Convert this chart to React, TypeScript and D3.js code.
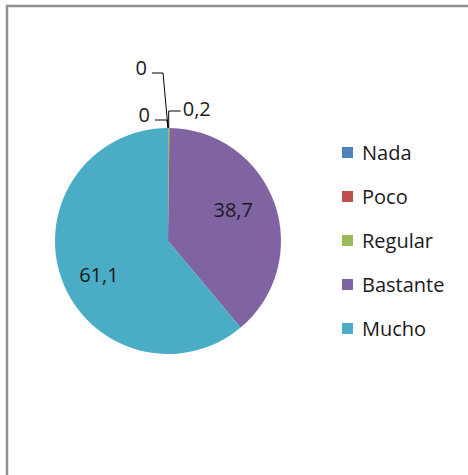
import { useEffect, useRef } from 'react'
import * as d3 from 'd3'

const categories = ['Nada', 'Poco', 'Regular', 'Bastante', 'Mucho']
const values = [0, 0, 0.2, 38.7, 61.1]
const labels = ['0', '0', '0,2', '38,7', '61,1']
const colours = ['#4F81BD', '#C0504D', '#9BBB59', '#8064A2', '#4BACC6']

const FONT = '"Open Sans", "Noto Sans", sans-serif'

function App() {
  const svgRef = useRef<SVGSVGElement | null>(null)

  useEffect(() => {
    const width = 468
    const height = 475
    const svg = d3.select(svgRef.current)
      .attr('width', width)
      .attr('height', height)
      .style('background', '#fff')

    // chart border (runs off the right/bottom of the picture)
    svg.append('rect')
      .attr('x', 7).attr('y', 6)
      .attr('width', 480).attr('height', 490)
      .attr('fill', 'none')
      .attr('stroke', '#909090')
      .attr('stroke-width', 2.5)

    const cx = 168
    const cy = 241
    const r = 113

    const pie = d3.pie<number>().sort(null).value(d => d)
    const arcs = pie(values)
    const arc = d3.arc<d3.PieArcDatum<number>>().innerRadius(0).outerRadius(r)

    const g = svg.append('g').attr('transform', `translate(${cx},${cy})`)

    g.selectAll('path')
      .data(arcs)
      .join('path')
      .attr('d', arc)
      .attr('fill', (_d, i) => colours[i])

    // ── inside labels for the big slices ───────────────────────────
    // small vertical nudge per label, as Excel placed them
    const nudge: Record<number, [number, number]> = { 3: [-5, -6], 4: [1, 8] }
    const inner = d3.arc<d3.PieArcDatum<number>>().innerRadius(r * 0.66).outerRadius(r * 0.66)
    arcs.forEach((a, i) => {
      if (values[i] < 5) return
      const [x, y] = inner.centroid(a)
      const [nx, ny] = nudge[i] || [0, 0]
      g.append('text')
        .attr('x', x + nx).attr('y', y + ny)
        .attr('text-anchor', 'middle')
        .attr('dominant-baseline', 'central')
        .attr('font-family', FONT)
        .attr('font-size', 20)
        .attr('fill', '#1a1a1a')
        .text(labels[i])
    })

    // ── outside labels with leader lines for the tiny slices ──────
    // [elbow dx, elbow dy, line length (signed), text gap, text dy]
    const outside: Record<number, [number, number, number, number, number]> = {
      0: [-5, -55, -11, 5, -6],
      1: [-1, -8, -12, 5, -6],
      2: [0, -17, 12, 2, -3],
    }
    const edge = d3.arc<d3.PieArcDatum<number>>().innerRadius(r).outerRadius(r)
    arcs.forEach((a, i) => {
      const o = outside[i]
      if (!o) return
      const [ex, ey] = edge.centroid(a)
      const [kdx, kdy, len, gap, tdy] = o
      const kx = ex + kdx
      const ky = ey + kdy
      const lineEnd = kx + len
      const left = len < 0
      g.append('path')
        .attr('d', `M${ex},${ey}L${kx},${ky}L${lineEnd},${ky}`)
        .attr('fill', 'none')
        .attr('stroke', '#000')
        .attr('stroke-width', 1)
      g.append('text')
        .attr('x', left ? lineEnd - gap : lineEnd + gap)
        .attr('y', ky + tdy)
        .attr('text-anchor', left ? 'end' : 'start')
        .attr('dominant-baseline', 'central')
        .attr('font-family', FONT)
        .attr('font-size', 20)
        .attr('fill', '#1a1a1a')
        .text(labels[i])
    })

    // ── legend ─────────────────────────────────────────────────────
    const legendY = d3.scalePoint<string>()
      .domain(categories)
      .range([152.5, 328.5])

    const legend = svg.append('g')
    categories.forEach((c, i) => {
      const y = legendY(c) as number
      legend.append('rect')
        .attr('x', 342).attr('y', y - 5.5)
        .attr('width', 11).attr('height', 11)
        .attr('fill', colours[i])
      legend.append('text')
        .attr('x', 362).attr('y', y)
        .attr('dominant-baseline', 'central')
        .attr('font-family', FONT)
        .attr('font-size', 20)
        .attr('fill', '#1a1a1a')
        .text(c)
    })

    return () => { svg.selectAll('*').remove() }
  }, [])

  return <svg ref={svgRef} style={{ position: 'absolute', left: 0, top: 0 }} />
}

export default App
